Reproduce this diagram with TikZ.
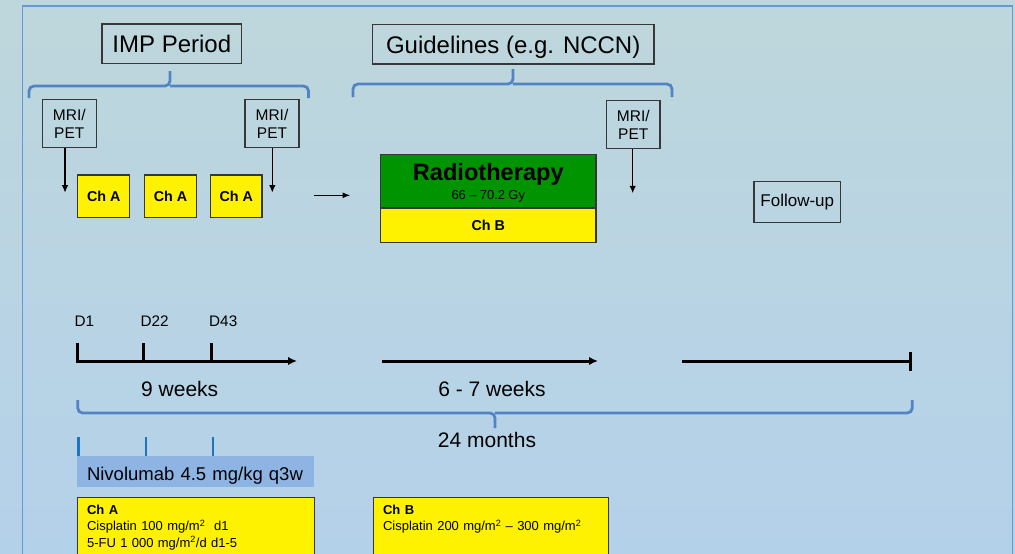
\documentclass[tikz,border=0pt]{standalone}
\usepackage{fontspec}
\setmainfont{Liberation Sans}
\usepackage{tikz}
\usetikzlibrary{arrows.meta, positioning}
\tikzset{>=latex}
\definecolor{bgtop}{RGB}{190, 215, 220}
\definecolor{bgbot}{RGB}{180, 209, 234}
\definecolor{framebl}{RGB}{100, 155, 215}
\definecolor{bracebl}{RGB}{82, 132, 196}
\definecolor{tickbl}{RGB}{30, 115, 195}
\definecolor{nivobl}{RGB}{142, 180, 227}
\definecolor{rtgreen}{RGB}{0, 148, 0}
\definecolor{boxgray}{RGB}{55, 55, 55}

\begin{document}
\begin{tikzpicture}[
    x = 1pt, y = -1pt,
    box/.style = {draw = boxgray, line width = 1.2pt, inner sep = 0pt, align = center},
    title/.style = {box, minimum height = 39.5pt, text height = 17.5pt, text depth = 0pt, font = \fontsize{24}{28}\selectfont},
    mri/.style = {box, minimum width = 54pt, minimum height = 48.5pt, font = \fontsize{15.5}{18}\selectfont},
    chbox/.style = {box, fill = yellow, minimum width = 52pt, minimum height = 42.5pt, font = \fontsize{14.3}{16}\selectfont\bfseries},
    detail/.style = {box, fill = yellow, anchor = north west, align = left, inner xsep = 9.5pt, inner ysep = 7.5pt, text depth = 60pt, font = \fontsize{13}{16.3}\selectfont},
    lbl/.style = {inner sep = 0pt, anchor = base},
    br/.style = {draw = bracebl, line width = 2.8pt, rounded corners = 5pt},
    darr/.style = {line width = 1.4pt, -{Latex[length = 7.5pt, width = 6.5pt]}},
    tl/.style = {line width = 3pt},
    tarr/.style = {tl, -{Latex[length = 9pt, width = 8.5pt]}},
]

% background and frame
\useasboundingbox (0,0) rectangle (1015,554);
\fill[top color = bgtop, bottom color = bgbot] (0,0) rectangle (1015,554);
\draw[framebl, line width = 1.5pt] (22.7,6) rectangle (1012.5,580);

% top row
\node[title, minimum width = 139.7pt] (imp) at (171.8,43.7) {IMP Period};
\node[title, minimum width = 281.7pt] (guide) at (513.2,44.3) {Guidelines (e.g. NCCN)};

\draw[br] (29,98) |- (170,86) -- (170,71);
\draw[br] (170,86) -| (308.5,98);
\draw[br] (353,97) |- (513,84) -- (513,69);
\draw[br] (513,84) -| (672,97);

\node[mri] (mri1) at (69.3,123.5) {MRI/\\PET};
\node[mri] (mri2) at (272,123.5) {MRI/\\PET};
\node[mri, minimum width = 53.3pt] (mri3) at (633.3,124.5) {MRI/\\PET};

\node[chbox] (cha1) at (103.8,196.3) {Ch A};
\node[chbox] (cha2) at (170.5,196.3) {Ch A};
\node[chbox, minimum width = 51.3pt] (cha3) at (236.3,196.3) {Ch A};

\coordinate (a1) at (65,192.7);
\coordinate (a2) at (272.3,192.7);
\coordinate (a3) at (632.7,193.3);
\draw[darr] (a1 |- mri1.south) -- (a1);
\draw[darr] (a2 |- mri2.south) -- (a2);
\draw[darr] (a3 |- mri3.south) -- (a3);

\coordinate (go1) at (314.3,195.3);
\coordinate (go2) at (350.5,195.3);
\draw[darr, -{Latex[length = 8pt, width = 6pt]}] (go1) -- (go2);

\node[box, fill = rtgreen, minimum width = 215.3pt, minimum height = 52.3pt, text width = 205pt, text height = 20.6pt, text depth = 21.2pt] (radio) at (488.3,181) {{\fontsize{23.6}{20}\selectfont\bfseries Radiotherapy\par}{\fontsize{13}{18.5}\selectfont 66 -- 70.2 Gy\par}};
\node[box, fill = yellow, minimum width = 215.3pt, minimum height = 34pt, font = \fontsize{14.3}{16}\selectfont\bfseries, anchor = north] (chb) at (radio.south) {Ch B};

\node[box, minimum width = 86.7pt, minimum height = 40.7pt, font = \fontsize{17}{20}\selectfont] (follow) at (797.3,202) {Follow-up};

% timeline
\node[lbl, anchor = base west] (d1) at (74.5,326.2) {\fontsize{15.3}{18}\selectfont D1};
\node[lbl, anchor = base west] (d22) at (140.3,326.2) {\fontsize{15.3}{18}\selectfont D22};
\node[lbl, anchor = base west] (d43) at (209,326.2) {\fontsize{15.3}{18}\selectfont D43};

\coordinate (t1s) at (77.7,361);
\coordinate (t1e) at (297,361);
\coordinate (t2s) at (381.7,361);
\coordinate (t2e) at (598,361);
\coordinate (t3s) at (682.3,361);
\coordinate (t3e) at (912.3,361);
\draw[tarr] (77.7,343) |- (t1e);
\foreach \x in {143, 211.7}
    \draw[tl] (\x,343) -- (\x,361);
\draw[tarr] (t2s) -- (t2e);
\draw[tl, -{Bar[width = 19pt]}] (t3s) -- (t3e);

\node[lbl] (wk1) at (179.7,396) {\fontsize{21}{24}\selectfont 9 weeks};
\node[lbl] (wk2) at (492,396) {\fontsize{21}{24}\selectfont 6 - 7 weeks};

\draw[br] (77.7,400) |- (495,413) -- (495,428);
\draw[br] (495,413) -| (912.3,400);
\node[lbl] (months) at (487,447.7) {\fontsize{21}{24}\selectfont 24 months};

% nivolumab and regimens
\foreach \x in {78.7, 146, 213}
    \draw[tickbl, line width = 2.5pt] (\x,437) -- (\x,455.5);
\node[fill = nivobl, inner xsep = 10pt, inner ysep = 0pt, text width = 217pt, align = left, minimum height = 31pt, text height = 17pt, text depth = 0pt, font = \fontsize{18.5}{22}\selectfont] (nivo) at (195.5,471.5) {Nivolumab 4.5 mg/kg q3w};

\node[detail, text width = 218pt] (chadet) at (77,497) {{\bfseries Ch A}\\Cisplatin 100 mg/m\textsuperscript{2}\ \ d1\\5-FU 1 000 mg/m\textsuperscript{2}/d d1-5};
\node[detail, text width = 216pt] (chbdet) at (373,497) {{\bfseries Ch B}\\Cisplatin 200 mg/m\textsuperscript{2} -- 300 mg/m\textsuperscript{2}};

\end{tikzpicture}
\end{document}
